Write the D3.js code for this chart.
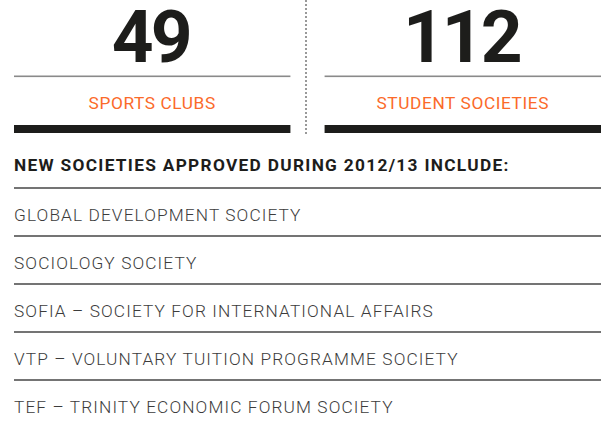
<!DOCTYPE html>
<html>
<head>
<meta charset="utf-8">
<script src="https://cdn.jsdelivr.net/npm/d3@7"></script>
<style>
  body { margin: 0; background: #fff; }
  svg { display: block; font-family: Roboto, "Noto Sans", sans-serif; }
</style>
</head>
<body>
<svg id="chart" width="601" height="421"></svg>
<script>
// Headline figures
var statValues = [49, 112];
var statLabels = ['SPORTS CLUBS', 'STUDENT SOCIETIES'];

// List of new societies
var listTitle = 'NEW SOCIETIES APPROVED DURING 2012/13 INCLUDE:';
var societies = [
    'GLOBAL DEVELOPMENT SOCIETY',
    'SOCIOLOGY SOCIETY',
    'SOFIA \u2013 SOCIETY FOR INTERNATIONAL AFFAIRS',
    'VTP \u2013 VOLUNTARY TUITION PROGRAMME SOCIETY',
    'TEF \u2013 TRINITY ECONOMIC FORUM SOCIETY'
];

var orange = '#fb6a2a',
    dark = '#1d1d1b';

var svg = d3.select('#chart');

// two panels side by side
var x = d3.scaleBand()
    .domain(d3.range(statValues.length))
    .range([14, 601])
    .paddingInner(0.11)
    .paddingOuter(0);

var panel = svg.selectAll('.stat')
    .data(statValues)
    .enter().append('g')
    .attr('class', 'stat')
    .attr('transform', function(d, i){ return 'translate(' + x(i) + ',0)'; });

// big numbers, tightened a bit since the original face has narrow digits
panel.append('text')
    .attr('x', x.bandwidth() / 2 - 1.5)
    .attr('y', 62)
    .attr('text-anchor', 'middle')
    .attr('font-size', 73)
    .attr('font-weight', 'bold')
    .attr('letter-spacing', -3)
    .attr('fill', dark)
    .text(function(d){ return d; });

panel.append('rect')
    .attr('x', 0).attr('y', 75.5)
    .attr('width', x.bandwidth()).attr('height', 1.6)
    .attr('fill', '#8a8a8a');

panel.append('text')
    .attr('x', x.bandwidth() / 2)
    .attr('y', 109)
    .attr('text-anchor', 'middle')
    .attr('font-size', 17.3)
    .attr('letter-spacing', 0.6)
    .attr('fill', orange)
    .text(function(d, i){ return statLabels[i]; });

panel.append('rect')
    .attr('x', 0).attr('y', 125)
    .attr('width', x.bandwidth()).attr('height', 8)
    .attr('fill', dark);

// dotted divider between the panels
svg.append('line')
    .attr('x1', 306).attr('x2', 306)
    .attr('y1', 0).attr('y2', 134)
    .attr('stroke', '#999')
    .attr('stroke-width', 2)
    .attr('stroke-dasharray', '2,2');

// list section
svg.append('text')
    .attr('x', 14).attr('y', 171)
    .attr('font-size', 17.3)
    .attr('font-weight', 'bold')
    .attr('letter-spacing', 1.3)
    .attr('fill', dark)
    .text(listTitle);

var y = d3.scaleLinear()
    .domain([0, 1])
    .range([188, 236]);

var row = svg.selectAll('.row')
    .data(societies)
    .enter().append('g')
    .attr('class', 'row');

row.append('rect')
    .attr('x', 14)
    .attr('y', function(d, i){ return y(i) - 0.7; })
    .attr('width', 587)
    .attr('height', 1.4)
    .attr('fill', '#3a3a3a');

row.append('text')
    .attr('x', 14)
    .attr('y', function(d, i){ return y(i) + 33; })
    .attr('font-size', 17.3)
    .attr('font-weight', 300)
    .attr('letter-spacing', 1.1)
    .attr('fill', '#3c3c3c')
    .text(function(d){ return d; });
</script>
</body>
</html>
